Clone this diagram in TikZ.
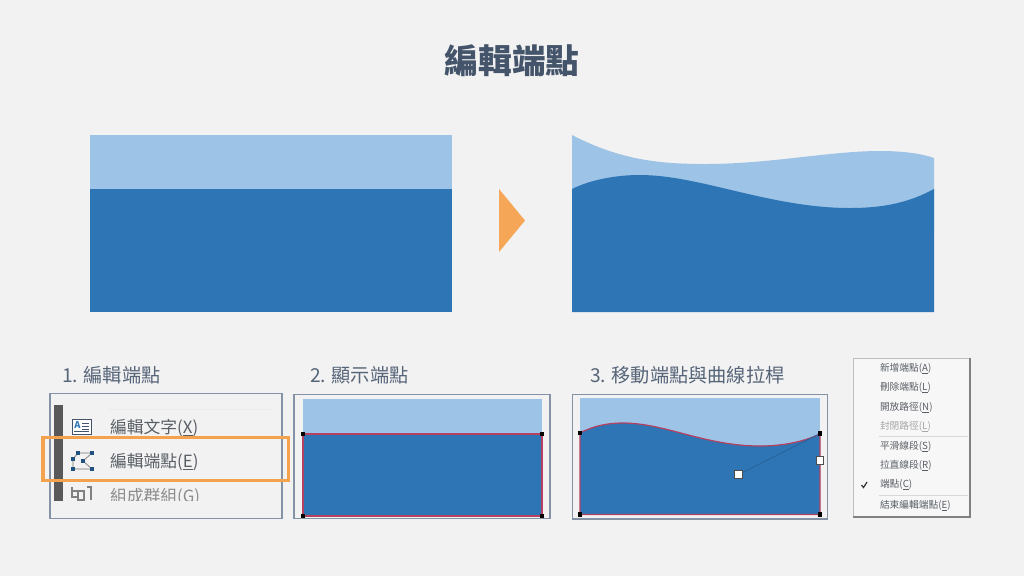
\documentclass[tikz,border=0pt]{standalone}
\usepackage{fontspec}
\usetikzlibrary{calc}
\setmainfont{Noto Sans CJK TC}
\definecolor{bg}{HTML}{F2F2F2}
\definecolor{lightblue}{HTML}{9DC3E6}
\definecolor{darkblue}{HTML}{2E75B6}
\definecolor{slate}{HTML}{44546A}
\definecolor{frame}{HTML}{8492A6}
\definecolor{orangeb}{HTML}{F4A24E}
\definecolor{pathred}{HTML}{B5405F}
\definecolor{menutext}{HTML}{5A5F66}
\newcommand{\fs}[1]{\fontsize{#1}{#1}\selectfont}
\tikzset{
  every node/.style={inner sep=0pt,outer sep=0pt},
  titletext/.style={text=slate,font=\fs{25.3}\bfseries,anchor=center},
  steptext/.style={text=slate!90,font=\fs{14.4},anchor=west},
  panel/.style={draw=frame,line width=0.9pt,fill=none},
  blight/.style={fill=lightblue},
  bdark/.style={fill=darkblue},
  editpath/.style={draw=pathred,line width=0.9pt},
  vertexdot/.style={fill=black,minimum size=3pt,shape=rectangle},
  vertexdotb/.style={fill=black,minimum size=3.6pt,shape=rectangle},
  handlebox/.style={draw=black!70,fill=white,line width=0.7pt,minimum size=5.8pt,shape=rectangle},
  bigmenu/.style={text=menutext,font=\fs{12.6},anchor=west},
  smallmenu/.style={text=menutext,font=\fs{7.3},anchor=west},
  sepline/.style={draw=black!15,line width=0.5pt},
}
\begin{document}
\begin{tikzpicture}[x=0.75pt,y=-0.75pt]
\useasboundingbox (0,0) rectangle (1024,576);
\fill[bg] (0,0) rectangle (1024,576);
\node[titletext] (title) at (512,61) {編輯端點};
% big left
\fill[blight] (89.5,135) rectangle (452,189);
\fill[bdark] (89.5,189) rectangle (452,312);
% arrow
\fill[orangeb!95!white] (499,189) -- (525,220.5) -- (499,252) -- cycle;
% big right
\fill[blight] (572,135) .. controls (620,160) and (660,164) .. (705,164)
  .. controls (770,164) and (830,151) .. (880,151)
  .. controls (900,151) and (920,153) .. (934,158) -- (934,230) -- (572,230) -- cycle;
\fill[bdark] (572,189) .. controls (590,180) and (615,175) .. (640,175)
  .. controls (700,175) and (770,208) .. (850,208)
  .. controls (885,208) and (910,202) .. (934,189) -- (934,312) -- (572,312) -- cycle;
% labels
\node[steptext] (s1) at (62,375) {1. 編輯端點};
\node[steptext] (s2) at (310,375) {2. 顯示端點};
\node[steptext] (s3) at (590,375) {3. 移動端點與曲線拉桿};
% panel 1
\draw[panel] (50,393.5) rectangle (282,518.5);
\fill[black!65] (54,405) rectangle (63,501);
\draw[black!8,line width=0.7pt] (109,409) -- (274,409);
% text-box icon
\draw[slate,line width=0.7pt,fill=white] (72,419.5) rectangle (91,434.5);
\node[text=darkblue,font=\fs{7}\bfseries] (iconA) at (77.5,425.5) {A};
\draw[slate,line width=0.5pt] (82,423) -- (89,423) (82,426) -- (89,426) (82,429) -- (89,429) (74,431.5) -- (89,431.5);
\node[bigmenu] (m1) at (110,428) {編輯文字(\underline{X})};
% edit points icon
\coordinate (p1) at (78,453);
\coordinate (p2) at (92,453);
\coordinate (p3) at (83,461);
\coordinate (p4) at (92,469);
\coordinate (p5) at (73,469);
\coordinate (p6) at (73,459);
\draw[black!55,line width=0.5pt] (p1) -- (p2) -- (p3) -- (p4) -- (p5) -- (p6) -- cycle;
\foreach \p in {p1,p2,p3,p4,p5,p6}
  \fill[darkblue!70!black] ($(\p)+(-1.7,-1.7)$) rectangle ($(\p)+(1.7,1.7)$);
\node[bigmenu] (m2) at (110,462) {編輯端點(\underline{E})};
% clipped third row
\begin{scope}
\clip (64,486) rectangle (274,500);
\draw[black!50,line width=0.8pt] (72,487) -- (72,497) -- (78,497) (72,491) -- (84,491) -- (84,500) -- (78,500) -- (78,491) (87,487) -- (91,487) -- (91,500);
\node[bigmenu,text=black!45] (m3) at (110,497) {組成群組(G)};
\end{scope}
\draw[orangeb,line width=2.4pt] (43,437.5) rectangle (288.5,480.5);
% panel 2
\draw[panel] (294,394.5) rectangle (550,518.5);
\fill[blight] (303,399) rectangle (542,434);
\fill[bdark] (303,434) rectangle (542,516);
\draw[editpath] (303,434) -- (542,434) -- (542,516) -- (303,516) -- cycle;
\node[vertexdot] (v1) at (303,434) {};
\node[vertexdot] (v2) at (542,434) {};
\node[vertexdot] (v3) at (542,516) {};
\node[vertexdot] (v4) at (303,516) {};
% panel 3
\draw[panel] (572.5,394.5) rectangle (827.5,519);
\fill[blight] (580,398) rectangle (820,455);
\fill[bdark] (580,433) .. controls (595,425) and (610,423) .. (623,423)
  .. controls (665,423) and (705,446) .. (760,446)
  .. controls (785,446) and (805,441) .. (820,434) -- (820,514.5) -- (580,514.5) -- cycle;
\draw[editpath] (580,433) .. controls (595,425) and (610,423) .. (623,423)
  .. controls (665,423) and (705,446) .. (760,446)
  .. controls (785,446) and (805,441) .. (820,434) -- (820,514.5) -- (580,514.5) -- cycle;
\node[vertexdotb] (w1) at (580,433) {};
\node[vertexdotb] (w2) at (820,433.5) {};
\node[vertexdotb] (w3) at (820,514.5) {};
\node[vertexdotb] (w4) at (580,514.5) {};
\draw[darkblue!85!black,line width=0.6pt] (738.5,474.5) -- (w2);
\node[handlebox] (h1) at (738.5,474.5) {};
\node[handlebox] (h2) at (820,460.5) {};
% context menu
\fill[bg!60!white] (853,358) rectangle (970,517);
\draw[black!25,line width=0.5pt] (970,358) -- (853,358) -- (853,517);
\draw[black!50,line width=0.9pt] (970,358) -- (970,517) -- (853,517);
\node[smallmenu] (c1) at (880,369) {新增端點(\underline{A})};
\node[smallmenu] (c2) at (880,388) {刪除端點(\underline{L})};
\node[smallmenu] (c3) at (880,407.5) {開放路徑(\underline{N})};
\node[smallmenu,text=black!35] (c4) at (880,426.5) {封閉路徑(\underline{L})};
\draw[sepline] (879,436.5) -- (968,436.5);
\node[smallmenu] (c5) at (880,447) {平滑線段(\underline{S})};
\node[smallmenu] (c6) at (880,466) {拉直線段(\underline{R})};
\node[smallmenu] (c7) at (880,485) {端點(\underline{C})};
\draw[black!80,line width=0.9pt] (861.5,485) -- (863.5,487.5) -- (867,482);
\draw[sepline] (879,495) -- (968,495);
\node[smallmenu] (c8) at (880,506) {結束編輯端點(\underline{E})};
\end{tikzpicture}
\end{document}
